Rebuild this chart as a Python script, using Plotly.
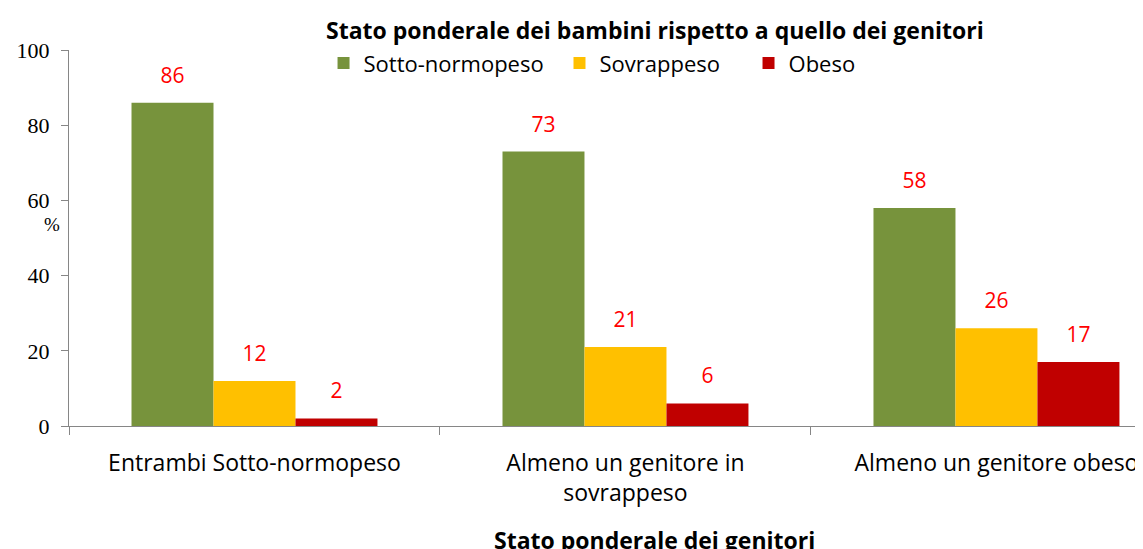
import plotly.graph_objects as go

categories = ["Entrambi Sotto-normopeso", "Almeno un genitore in<br>sovrappeso", "Almeno un genitore obeso"]
series_names = ["Sotto-normopeso", "Sovrappeso", "Obeso"]
sotto_normopeso = [86, 73, 58]
sovrappeso = [12, 21, 26]
obeso = [2, 6, 17]
colors = ["#77933C", "#FFC000", "#C00000"]
title_text = "Stato ponderale dei bambini rispetto a quello dei genitori"
x_title = "Stato ponderale dei genitori"
y_title = "%"
y_ticks = [0, 20, 40, 60, 80, 100]

SANS = "Open Sans"
SERIF = "Liberation Serif"

legend_ids = ["legend", "legend2", "legend3"]
legend_x = [0.2370, 0.4567, 0.6327]

fig = go.Figure()
values = [sotto_normopeso, sovrappeso, obeso]
for name, vals, col, lg in zip(series_names, values, colors, legend_ids):
    fig.add_trace(go.Bar(x=categories, y=vals, name=name, marker_color=col,
                         marker_line_width=0, offsetgroup=name, legend=lg))
for name, vals in zip(series_names, values):
    fig.add_trace(go.Scatter(x=categories, y=vals, mode="markers+text", text=[str(v) for v in vals],
                             textposition="top center", textfont=dict(color="#FF0000", size=21, family=SANS),
                             marker=dict(size=22, opacity=0), showlegend=False, offsetgroup=name,
                             hoverinfo="skip", cliponaxis=False))

legend_style = dict(orientation="h", y=0.965, xanchor="left", yanchor="middle",
                    font=dict(family=SANS, size=22, color="black"), bgcolor="rgba(0,0,0,0)")
fig.update_layout(
    width=1135, height=541,
    margin=dict(l=61, r=0, t=42, b=123),
    paper_bgcolor="white", plot_bgcolor="white",
    barmode="group", bargap=0.337, bargroupgap=0,
    scattermode="group", scattergap=0.337,
    showlegend=True,
    legend=dict(x=legend_x[0], **legend_style),
    legend2=dict(x=legend_x[1], **legend_style),
    legend3=dict(x=legend_x[2], **legend_style),
    font=dict(family=SANS, color="black"),
)
fig.update_xaxes(range=[-0.5, 2.395], showline=True, linecolor="#868686", linewidth=1,
                 ticks="outside", tickson="boundaries", ticklen=8, tickcolor="#868686",
                 tickfont=dict(family=SANS, size=23, color="black"), ticklabelstandoff=16,
                 showgrid=False, zeroline=False, automargin=False)
fig.update_yaxes(range=[0, 100], tickvals=y_ticks, showline=True, linecolor="#868686", linewidth=1,
                 ticks="outside", ticklen=7, tickcolor="#868686",
                 tickfont=dict(family=SERIF, size=22, color="black"), ticklabelstandoff=7,
                 showgrid=False, zeroline=False, automargin=False)

fig.add_annotation(text="<b>" + title_text + "</b>", xref="paper", yref="paper", x=0.5456, y=1.053,
                   xanchor="center", yanchor="middle", showarrow=False,
                   font=dict(family=SANS, size=23, color="black"))
fig.add_annotation(text="<b>" + x_title + "</b>", xref="paper", yref="paper", x=0.5456, y=-0.303,
                   xanchor="center", yanchor="middle", showarrow=False,
                   font=dict(family=SANS, size=23, color="black"))
fig.add_annotation(text=y_title, xref="paper", yref="paper", x=-0.0158, y=0.535,
                   xanchor="center", yanchor="middle", showarrow=False,
                   font=dict(family=SERIF, size=19, color="black"))

fig.write_html("out.html")
